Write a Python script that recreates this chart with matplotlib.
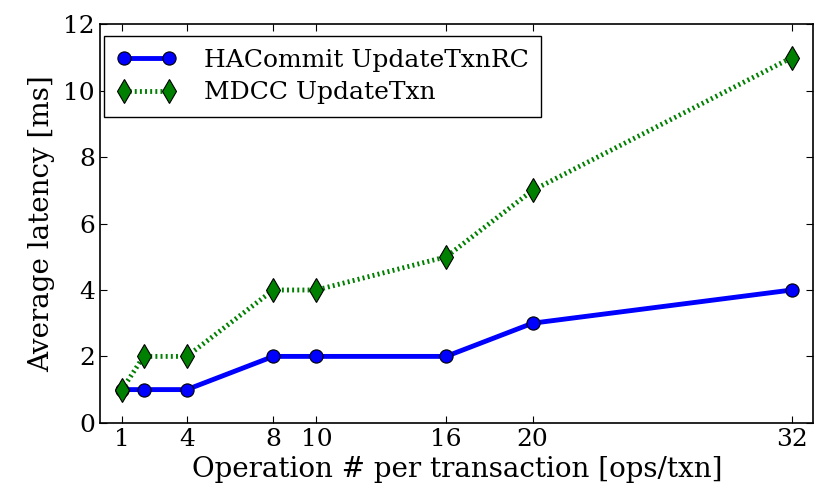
import matplotlib

matplotlib.use("Agg")
import matplotlib.pyplot as plt

ops_per_txn = [1, 2, 4, 8, 10, 16, 20, 32]
xtick_values = [1, 4, 8, 10, 16, 20, 32]
hacommit_latency = [1, 1, 1, 2, 2, 2, 3, 4]
mdcc_latency = [1, 2, 2, 4, 4, 5, 7, 11]

plt.rcParams["font.family"] = ["DejaVu Serif"]
plt.rcParams["font.size"] = 18
plt.rcParams["lines.scale_dashes"] = False

fig = plt.figure(figsize=(8.3, 4.98), dpi=100)
ax = fig.add_axes([0.121, 0.151, 0.859, 0.8])

ax.plot(ops_per_txn, hacommit_latency, color="blue", linestyle="-", linewidth=3.5,
        marker="o", markersize=9.5, markeredgecolor="black", markeredgewidth=0.8,
        label="HACommit UpdateTxnRC")
ax.plot(ops_per_txn, mdcc_latency, color="green", linestyle=(0, (1.4, 2.3)), linewidth=3.5,
        marker="d", markersize=12, markeredgecolor="black", markeredgewidth=0.8,
        label="MDCC UpdateTxn")

ax.set_xlim(0, 33)
ax.set_ylim(0, 12)
ax.set_xticks(xtick_values)
ax.set_yticks(range(0, 13, 2))
ax.tick_params(direction="in", top=True, right=True, length=5, width=0.8, pad=4)
ax.set_xlabel("Operation # per transaction [ops/txn]", fontsize=20, labelpad=3)
ax.set_ylabel("Average latency [ms]", fontsize=20, labelpad=6)
for spine in ax.spines.values():
    spine.set_linewidth(1.2)

leg = ax.legend(loc="upper left", bbox_to_anchor=(0.005, 0.97), borderaxespad=0,
                numpoints=2, fancybox=False, framealpha=1, edgecolor="black",
                fontsize=18, handlelength=2.4, handletextpad=1.1,
                labelspacing=0.38, borderpad=0.5)
leg.get_frame().set_linewidth(1.0)

fig.savefig("out.png")
plt.close(fig)
